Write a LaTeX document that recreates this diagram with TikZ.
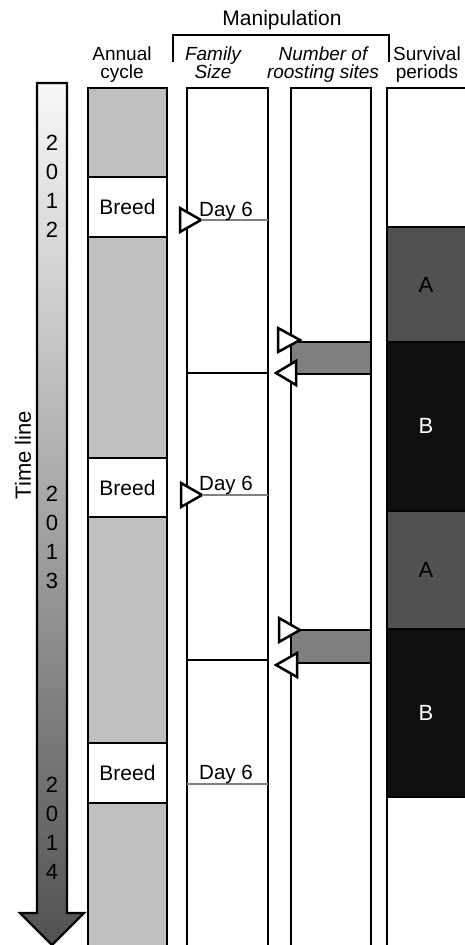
\documentclass[tikz,border=0pt]{standalone}
\usepackage{fontspec}
\setmainfont{Liberation Sans}
\definecolor{cyclegray}{HTML}{C0C0C0}
\definecolor{roostgray}{HTML}{7F7F7F}
\definecolor{periodA}{HTML}{515151}
\definecolor{periodB}{HTML}{0F0F0F}
\tikzset{
  blk/.style={draw, line width=2.7pt, inner sep=0pt, outer sep=0pt, anchor=north west,
              font=\fontsize{21}{24}\selectfont},
  hdr/.style={inner sep=0pt, align=center, font=\fontsize{19}{19}\selectfont},
  hdrit/.style={hdr, font=\fontsize{19}{19}\selectfont\itshape},
  digit/.style={inner sep=0pt, font=\fontsize{22}{22}\selectfont},
  daylbl/.style={inner sep=0pt, anchor=base, font=\fontsize{20.5}{20}\selectfont},
  dayline/.style={draw=gray, line width=1.2pt},
  marker/.style={draw, fill=white, line width=2.5pt, line join=miter},
}
\begin{document}
\begin{tikzpicture}[x=1pt, y=-1pt]
\useasboundingbox (0,0) rectangle (465,945);
\clip (0,0) rectangle (465,945);

% column headings
\node[inner sep=0pt, font=\fontsize{21}{21}\selectfont] (manip) at (282,20) {Manipulation};
\draw[line width=2.2pt] (173,62) coordinate (brL) -- (173,35) -- (389,35) -- (389,62) coordinate (brR);
\node[hdr, anchor=base] (hAnnual) at (122,60) {Annual};
\node[hdr, anchor=base] (hCycle) at (122,78) {cycle};
\node[hdrit, anchor=base] (hFamily) at (213,60) {Family};
\node[hdrit, anchor=base] (hSize) at (213,78) {Size};
\node[hdrit, anchor=base] (hNumber) at (323,60) {Number of};
\node[hdrit, anchor=base] (hRoost) at (323,78) {roosting sites};
\node[hdr, anchor=base] (hSurv) at (427,60) {Survival};
\node[hdr, anchor=base] (hPeriods) at (427,78) {periods};

% time line arrow
\shade[top color=gray!6, bottom color=black!68, draw=black, line width=2.2pt, line join=miter]
  (37,83) -- (67,83) -- (67,913) -- (84,913) -- (52,945) -- (20,913) -- (37,913) -- cycle;
\node[inner sep=0pt, rotate=90, font=\fontsize{22}{22}\selectfont] (tl) at (23,455) {Time line};
\foreach \d/\y [count=\i] in {2/143,0/172,1/201,2/230} \node[digit] (ya\i) at (52,\y) {\d};
\foreach \d/\y [count=\i] in {2/494,0/523,1/552,3/581} \node[digit] (yb\i) at (52,\y) {\d};
\foreach \d/\y [count=\i] in {2/785,0/814,1/843,4/872} \node[digit] (yc\i) at (52,\y) {\d};

% annual cycle
\node[blk, fill=cyclegray, minimum width=79pt, minimum height=89pt]  (cyc1) at (88,88) {};
\node[blk, fill=white,     minimum width=79pt, minimum height=60pt]  (brd1) at (88,177) {Breed};
\node[blk, fill=cyclegray, minimum width=79pt, minimum height=221pt] (cyc2) at (88,237) {};
\node[blk, fill=white,     minimum width=79pt, minimum height=59pt]  (brd2) at (88,458) {Breed};
\node[blk, fill=cyclegray, minimum width=79pt, minimum height=226pt] (cyc3) at (88,517) {};
\node[blk, fill=white,     minimum width=79pt, minimum height=60pt]  (brd3) at (88,743) {Breed};
\node[blk, fill=cyclegray, minimum width=79pt, minimum height=160pt] (cyc4) at (88,803) {};

% family size manipulation
\node[blk, fill=white, minimum width=81pt, minimum height=285pt] (fam1) at (187,88) {};
\node[blk, fill=white, minimum width=81pt, minimum height=287pt] (fam2) at (187,373) {};
\node[blk, fill=white, minimum width=81pt, minimum height=300pt] (fam3) at (187,660) {};
\coordinate (d1) at (268,220);
\coordinate (d2) at (268,495);
\coordinate (d3) at (268,784);
\draw[marker] (180,208) -- (201,220) coordinate (t1) -- (180,232) -- cycle;
\draw[marker] (181,483) -- (202,495) coordinate (t2) -- (181,507) -- cycle;
\coordinate (t3) at (187,784);
\draw[dayline] (t1) -- (d1);
\draw[dayline] (t2) -- (d2);
\draw[dayline] (t3) -- (d3);
\node[daylbl] (day1) at (226,216) {Day 6};
\node[daylbl] (day2) at (226,490) {Day 6};
\node[daylbl] (day3) at (226,779) {Day 6};

% roosting site manipulation
\node[blk, fill=white, minimum width=80pt, minimum height=880pt] (roost) at (291,88) {};
\node[blk, fill=roostgray, line width=2.2pt, minimum width=80pt, minimum height=32pt] (rs1) at (291,342) {};
\node[blk, fill=roostgray, line width=2.2pt, minimum width=80pt, minimum height=33pt] (rs2) at (291,630) {};
\draw[marker] (278,328) -- (300,340) -- (278,352) -- cycle;
\draw[marker] (296,361) -- (276,373) -- (296,385) -- cycle;
\draw[marker] (279,618) -- (300,630) -- (279,642) -- cycle;
\draw[marker] (297,653) -- (276,665) -- (297,677) -- cycle;

% survival periods
\node[blk, fill=white,   minimum width=90pt, minimum height=139pt] (sv0) at (387,88) {};
\node[blk, fill=periodA, line width=1.5pt, minimum width=90pt, minimum height=115pt] (sv1) at (387,227) {};
\node[blk, fill=periodB, line width=1.5pt, minimum width=90pt, minimum height=169pt] (sv2) at (387,342) {};
\node[blk, fill=periodA, line width=1.5pt, minimum width=90pt, minimum height=118pt] (sv3) at (387,511) {};
\node[blk, fill=periodB, line width=1.5pt, minimum width=90pt, minimum height=168pt] (sv4) at (387,629) {};
\node[blk, fill=white,   minimum width=90pt, minimum height=170pt] (sv5) at (387,797) {};
\draw[line width=2.7pt] (387,88) -- (387,960);
\node[digit] (pA1) at (426,285) {A};
\node[digit, text=white] (pB1) at (426,426) {B};
\node[digit] (pA2) at (426,570) {A};
\node[digit, text=white] (pB2) at (426,713) {B};
\end{tikzpicture}
\end{document}
